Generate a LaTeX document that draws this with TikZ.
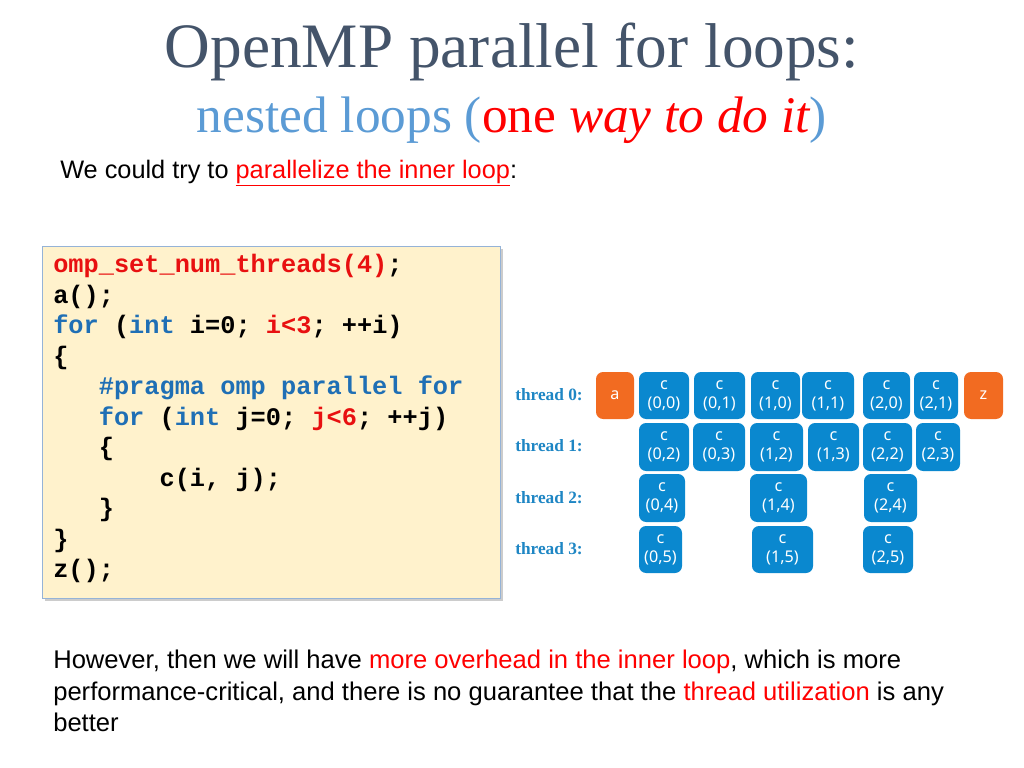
\documentclass[tikz,border=0pt]{standalone}
\usepackage{fontspec}
\setmainfont{Liberation Serif}
\setsansfont{Liberation Sans}
\newfontfamily\codefont{Liberation Mono}
\newfontfamily\boxfont{Noto Sans}
\definecolor{titlegray}{HTML}{44546A}
\definecolor{subblue}{HTML}{5B9BD5}
\definecolor{codered}{HTML}{E81010}
\definecolor{codeblue}{HTML}{1F6FB5}
\definecolor{codebg}{HTML}{FFF2CC}
\definecolor{codeline}{HTML}{95B3D7}
\definecolor{taskblue}{HTML}{0A88CF}
\definecolor{taskorange}{HTML}{F26B21}
\definecolor{threadblue}{HTML}{1E86C4}
\newcommand{\kw}[1]{\textcolor{codeblue}{#1}}
\newcommand{\rd}[1]{\textcolor{codered}{#1}}
\tikzset{
  task/.style={rounded corners=5pt, inner sep=0pt, text=white,
    font=\boxfont\fontsize{11.5}{13.5}\selectfont, align=center},
  threadlbl/.style={text=threadblue, font=\bfseries\fontsize{12.3}{14}\selectfont},
}
\begin{document}
\begin{tikzpicture}[x=0.025cm,y=-0.025cm]
\useasboundingbox[fill=white] (0,0) rectangle (1024,768);
% title
\node[text=titlegray, font=\fontsize{45}{50}\selectfont] (title) at (512,52) {OpenMP parallel for loops:};
\node[font=\fontsize{36.5}{40}\selectfont] (subtitle) at (512,120)
  {\textcolor{subblue}{nested loops (}\textcolor{red}{one }\textcolor{red}{\itshape way to do it}\textcolor{subblue}{)}};
\node[anchor=west, font=\sffamily\fontsize{18}{21}\selectfont, inner sep=0pt] (intro) at (60,173)
  {We could try to \textcolor{red}{\underline{parallelize the inner loop}}:};
% code box
\fill[gray!40] (45,249) rectangle (503,601);
\filldraw[fill=codebg, draw=codeline] (42,246) rectangle (500,598);
\node[anchor=north west, inner sep=0pt, align=left, font=\codefont\bfseries\fontsize{18}{21.7}\selectfont] (code) at (53,254)
{\rd{omp\_set\_num\_threads(4)};\\
a();\\
\kw{for} (\kw{int} i=0; \rd{i<3}; ++i)\\
\{\\
\phantom{xxx}\kw{\#pragma omp parallel for}\\
\phantom{xxx}\kw{for} (\kw{int} j=0; \rd{j<6}; ++j)\\
\phantom{xxx}\{\\
\phantom{xxxxxxx}c(i, j);\\
\phantom{xxx}\}\\
\}\\
z();};
% threads
\foreach \t/\y in {0/395,1/446,2/498,3/549}
  \node[threadlbl] (thread\t) at (549,\y) {thread \t:};
\foreach \n/\xa/\ya/\xb/\yb/\lbl in {
  a/596/372/634/419/a, z/964/372/1003/419/z}
  \fill[taskorange, rounded corners=5pt] (\xa,\ya) rectangle (\xb,\yb)
    node[task, midway] (task\n) {\lbl};
\foreach \n/\xa/\ya/\xb/\yb in {
  00/639/372/689/419, 01/694/372/745/419, 10/751/372/800/419, 11/802/372/854/419,
  20/863/372/910/419, 21/914/372/958/419,
  02/639/423/689/471, 03/693/423/745/471, 12/750/423/803/471, 13/808/423/859/471,
  22/863/423/912/471, 23/916/423/960/471,
  04/639/474/685/522, 14/750/474/807/522, 24/864/474/917/522,
  05/639/526/682/573, 15/752/526/813/573, 25/863/526/913/573}
  \fill[taskblue, rounded corners=5pt] (\xa,\ya) rectangle (\xb,\yb)
    node[task, midway] (task\n) {c\\(\pgfmathparse{int(\n/10)}\pgfmathresult,\pgfmathparse{int(mod(\n,10))}\pgfmathresult)};
% closing remark
\node[anchor=north west, inner sep=0pt, align=left, font=\sffamily\fontsize{18.2}{22.2}\selectfont] (remark) at (53,650)
{However, then we will have \textcolor{red}{more overhead in the inner loop}, which is more\\
performance-critical, and there is no guarantee that the \textcolor{red}{thread utilization} is any\\
better};
\end{tikzpicture}
\end{document}
